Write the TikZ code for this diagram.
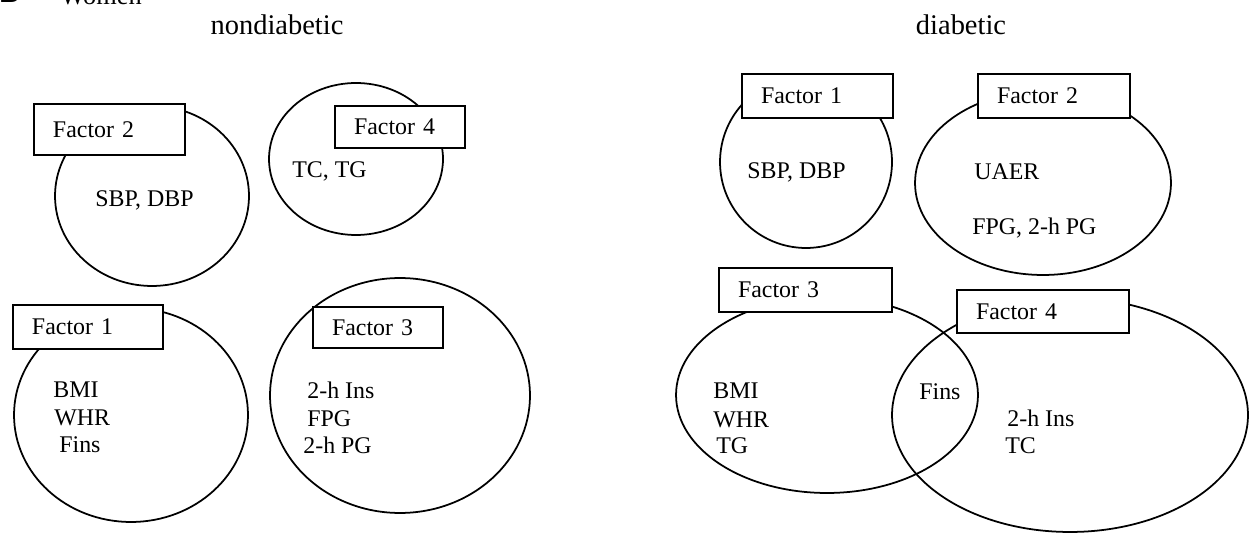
\documentclass[tikz,border=0pt]{standalone}
\usepackage{fontspec}
\setmainfont{Liberation Serif}
\setsansfont{Liberation Sans}
\usetikzlibrary{shapes.geometric}
\begin{document}
\begin{tikzpicture}[x=0.02cm,y=-0.02cm,
  every node/.style={font=\fontsize{13.6}{16}\selectfont},
  fac/.style={draw, line width=1pt, ellipse, inner sep=0pt, outer sep=0pt},
  lab/.style={draw, line width=1pt, fill=white, rectangle, inner xsep=0.38cm, inner ysep=0pt, align=left, anchor=north west, outer sep=0pt},
  txt/.style={anchor=base west, inner sep=0pt},
  ttl/.style={anchor=base, inner sep=0pt, font=\fontsize{16.2}{19}\selectfont}]
\fill[white] (0,0) rectangle (1250,533);
\useasboundingbox (0,0) rectangle (1250,533);

% header (cut off at the top, as in the reference)
\node[anchor=base west, inner sep=0pt, font=\sffamily\bfseries\fontsize{16}{19}\selectfont] (panel) at (-1,3) {B};
\node[anchor=base west, inner sep=0pt, font=\fontsize{15}{18}\selectfont] (women) at (60,5) {Women};
\node[ttl] (tnd) at (277,35) {nondiabetic};
\node[ttl] (td) at (961,35) {diabetic};

% ---------- nondiabetic ----------
\node[fac, minimum width=3.88cm, minimum height=3.6cm] (nF2) at (152,196) {};
\node[fac, minimum width=3.48cm, minimum height=3.04cm] (nF4) at (356,159) {};
\node[fac, minimum width=4.68cm, minimum height=4.28cm] (nF1) at (131,415) {};
\node[fac, minimum width=5.2cm, minimum height=4.7cm] (nF3) at (400,395.5) {};

\node[lab, text width=2.26cm, minimum height=1.02cm] (nB2) at (34,104) {Factor 2};
\node[lab, text width=1.84cm, minimum height=0.84cm] (nB4) at (335,106) {Factor 4};
\node[lab, text width=2.24cm, minimum height=0.88cm] (nB1) at (13,305) {Factor 1};
\node[lab, text width=1.84cm, minimum height=0.82cm] (nB3) at (313,307) {Factor 3};

\node[txt] (nt1) at (95,207) {SBP, DBP};
\node[txt] (nt2) at (292,178) {TC, TG};
\node[txt] (nt3) at (53,397) {BMI};
\node[txt] (nt4) at (54,425) {WHR};
\node[txt] (nt5) at (59,452) {Fins};
\node[txt] (nt6) at (307,398) {2-h Ins};
\node[txt] (nt7) at (307,426) {FPG};
\node[txt] (nt8) at (303,453) {2-h PG};

% ---------- diabetic ----------
\node[fac, minimum width=3.44cm, minimum height=3.44cm] (dF1) at (806,162) {};
\node[fac, minimum width=5.12cm, minimum height=3.68cm] (dF2) at (1043,183) {};
\node[fac, minimum width=6.04cm, minimum height=3.92cm] (dF3) at (827,395) {};
\node[fac, minimum width=7.12cm, minimum height=4.68cm] (dF4) at (1070,415) {};

\node[lab, text width=2.26cm, minimum height=0.88cm] (dB1) at (742,74) {Factor 1};
\node[lab, text width=2.28cm, minimum height=0.88cm] (dB2) at (978,74) {Factor 2};
\node[lab, text width=2.70cm, minimum height=0.88cm] (dB3) at (719,268) {Factor 3};
\node[lab, text width=2.68cm, minimum height=0.86cm] (dB4) at (957,290) {Factor 4};

\node[txt] (dt1) at (747,179) {SBP, DBP};
\node[txt] (dt2) at (974,180) {UAER};
\node[txt] (dt3) at (972,235) {FPG, 2-h PG};
\node[txt] (dt4) at (713,398) {BMI};
\node[txt] (dt5) at (713,427) {WHR};
\node[txt] (dt6) at (716,453) {TG};
\node[txt] (dt7) at (919,399) {Fins};
\node[txt] (dt8) at (1007,426) {2-h Ins};
\node[txt] (dt9) at (1005,453) {TC};
\end{tikzpicture}
\end{document}
